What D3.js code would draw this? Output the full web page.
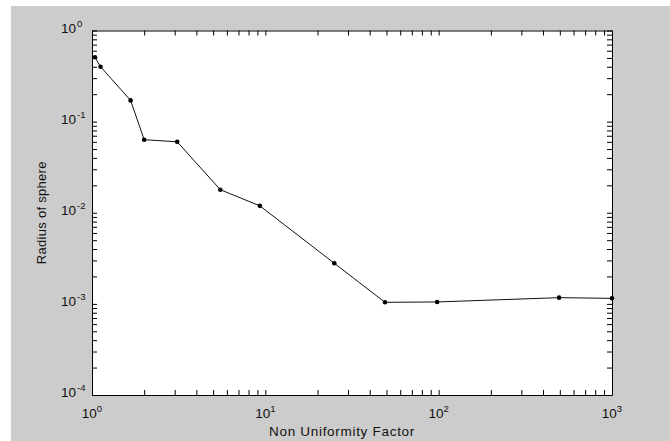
<!DOCTYPE html>
<html>
<head>
<meta charset="utf-8">
<script src="https://cdn.jsdelivr.net/npm/d3@7"></script>
<style>
  html, body { margin: 0; padding: 0; background: #ffffff; }
  svg { display: block; }
  text { font-family: "Liberation Sans", Arial, sans-serif; fill: #111; }
</style>
</head>
<body>
<svg id="chart" width="670" height="441"></svg>
<script>
// Non uniformity factor (x) and corresponding sphere radius (y)
const factor = [1.04, 1.12, 1.67, 2.0, 3.1, 5.5, 9.3, 25, 49, 98, 495, 1000];
const radius = [0.508, 0.40, 0.171, 0.0633, 0.0601, 0.0179, 0.0119, 0.00279, 0.00104, 0.00105, 0.00117, 0.00115];

// Decade exponents used for the tick labels
const xExponents = ["0", "1", "2", "3"];
const yExponents = ["0", "-1", "-2", "-3", "-4"];

const xLabel = "Non Uniformity Factor";
const yLabel = "Radius of sphere";

const svg = d3.select("#chart");
const W = 670, H = 441;
const plot = { left: 92, right: 612, top: 30.5, bottom: 395 };

// figure background
svg.append("rect").attr("x", 11).attr("y", 6).attr("width", W - 11).attr("height", H - 6).attr("fill", "#cccccc");
// axes area
svg.append("rect")
  .attr("x", plot.left).attr("y", plot.top)
  .attr("width", plot.right - plot.left).attr("height", plot.bottom - plot.top)
  .attr("fill", "#ffffff");

const x = d3.scaleLog().domain([1, 1000]).range([plot.left, plot.right]);
const y = d3.scaleLog().domain([1e-4, 1]).range([plot.bottom, plot.top]);

// all decade and sub-decade tick positions
const xTicks = [];
for (let d = 0; d < 3; d++) for (let m = 1; m < 10; m++) xTicks.push(m * Math.pow(10, d));
xTicks.push(1000);
const yTicks = [];
for (let d = -4; d < 0; d++) for (let m = 1; m < 10; m++) yTicks.push(m * Math.pow(10, d));
yTicks.push(1);

const tl = 5;
function styleAxis(g) {
  g.select(".domain").attr("stroke", "#000").attr("stroke-width", 1);
  g.selectAll(".tick line").attr("stroke", "#000");
  g.selectAll(".tick text").remove();
}
svg.append("g").attr("transform", `translate(0,${plot.bottom})`)
  .call(d3.axisBottom(x).tickValues(xTicks).tickSizeInner(-tl).tickSizeOuter(0).tickFormat(""))
  .call(styleAxis);
svg.append("g").attr("transform", `translate(0,${plot.top})`)
  .call(d3.axisTop(x).tickValues(xTicks).tickSizeInner(-tl).tickSizeOuter(0).tickFormat(""))
  .call(styleAxis);
svg.append("g").attr("transform", `translate(${plot.left},0)`)
  .call(d3.axisLeft(y).tickValues(yTicks).tickSizeInner(-tl).tickSizeOuter(0).tickFormat(""))
  .call(styleAxis);
svg.append("g").attr("transform", `translate(${plot.right},0)`)
  .call(d3.axisRight(y).tickValues(yTicks).tickSizeInner(-tl).tickSizeOuter(0).tickFormat(""))
  .call(styleAxis);

// x tick labels: 10 with superscript exponent, centred on the tick
xExponents.forEach((e) => {
  const v = Math.pow(10, +e);
  const t = svg.append("text")
    .attr("x", x(v)).attr("y", 418)
    .attr("text-anchor", "middle")
    .style("font-size", "13.5px");
  t.append("tspan").text("10");
  t.append("tspan").attr("dy", -6).style("font-size", "9.5px").text(e);
});

// y tick labels: "10" right-aligned at a fixed column, exponent after it
yExponents.forEach((e) => {
  const v = Math.pow(10, +e);
  const g = svg.append("g");
  g.append("text")
    .attr("x", 76).attr("y", y(v) + 2)
    .attr("text-anchor", "end")
    .style("font-size", "13.5px")
    .text("10");
  g.append("text")
    .attr("x", 77).attr("y", y(v) - 4)
    .style("font-size", "9.5px")
    .text(e);
});

// axis titles
svg.append("text")
  .attr("x", 342).attr("y", 436)
  .attr("text-anchor", "middle")
  .style("font-size", "13.5px").style("letter-spacing", "0.7px")
  .text(xLabel);
svg.append("text")
  .attr("transform", `translate(46,${(plot.top + plot.bottom) / 2}) rotate(-90)`)
  .attr("text-anchor", "middle")
  .style("font-size", "13px").style("letter-spacing", "0.3px")
  .text(yLabel);

// data line and markers
const pts = factor.map((f, i) => [f, radius[i]]);
svg.append("path")
  .datum(pts)
  .attr("fill", "none").attr("stroke", "#111").attr("stroke-width", 1)
  .attr("d", d3.line().x(d => x(d[0])).y(d => y(d[1])));
svg.selectAll("circle.pt").data(pts).enter().append("circle")
  .attr("class", "pt")
  .attr("cx", d => x(d[0])).attr("cy", d => y(d[1]))
  .attr("r", 2.3).attr("fill", "#000");
</script>
</body>
</html>
